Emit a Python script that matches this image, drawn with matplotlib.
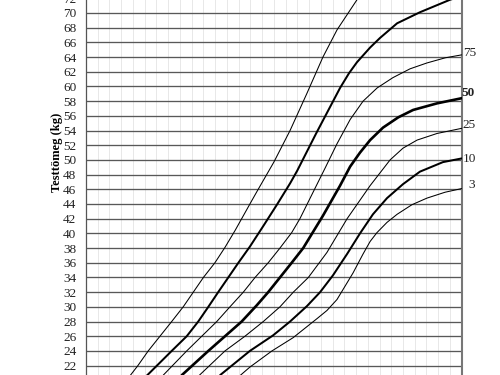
import matplotlib
matplotlib.use("Agg")
import matplotlib.pyplot as plt
import numpy as np

# ---- data (age in years, weight in kg) ----
p97_age = [3.87, 4.21, 4.65, 5.15, 5.65, 6.14, 6.57, 7.00, 7.49, 7.92, 8.35, 8.98, 9.28, 10.0, 10.69, 11.4, 12.09, 12.69, 13.54, 14.0]
p97_kg  = [20.6, 22.0, 24.0, 26.0, 28.0, 30.0, 32.0, 34.0, 36.0, 38.1, 40.4, 44.0, 45.7, 49.7, 54.0, 59.0, 64.0, 67.7, 71.8, 74.0]

p90_age = [4.58, 5.65, 6.29, 6.78, 7.21, 7.63, 8.06, 8.49, 8.98, 9.55, 10.13, 10.69, 10.99, 11.8, 12.82, 13.2, 13.54, 14.1, 14.52, 15.25, 16.22, 17.5, 18.0]
p90_kg  = [20.6, 24.0, 26.0, 28.0, 30.0, 32.0, 34.0, 36.0, 38.2, 41.0, 43.9, 46.8, 48.5, 53.6, 59.8, 61.8, 63.3, 65.3, 66.6, 68.6, 70.1, 71.8, 72.3]

p75_age = [5.29, 6.29, 6.93, 7.57, 8.13, 8.70, 9.20, 9.76, 10.26, 10.76, 11.11, 11.67, 12.2, 12.69, 13.25, 13.80, 14.4, 15.07, 15.8, 16.52, 17.3, 18.0]
p75_kg  = [20.7, 24.0, 26.0, 28.0, 30.0, 32.0, 34.0, 36.0, 38.0, 40.1, 42.0, 45.6, 49.0, 52.2, 55.5, 58.0, 59.8, 61.2, 62.4, 63.2, 63.9, 64.3]

p50_age = [6.08, 7.21, 7.92, 8.63, 9.27, 9.76, 10.26, 10.76, 11.25, 12.09, 12.82, 13.25, 13.67, 14.1, 14.65, 15.3, 15.93, 16.95, 18.0]
p50_kg  = [20.7, 24.0, 26.0, 28.0, 30.2, 32.0, 34.0, 36.0, 38.0, 42.4, 46.5, 49.1, 51.0, 52.7, 54.4, 55.8, 56.8, 57.7, 58.4]

p25_age = [6.80, 7.92, 8.77, 9.55, 10.26, 10.83, 11.47, 12.26, 13.12, 14.10, 14.95, 15.5, 16.10, 16.95, 18.0]
p25_kg  = [20.6, 24.0, 26.0, 28.0, 30.0, 32.0, 34.0, 37.4, 42.0, 46.5, 50.0, 51.6, 52.7, 53.6, 54.3]

p10_age = [7.71, 8.98, 9.96, 10.69, 11.41, 11.97, 12.52, 13.12, 13.67, 14.22, 14.82, 15.50, 16.22, 17.20, 18.0]
p10_kg  = [20.7, 24.0, 26.1, 28.0, 30.1, 32.0, 34.3, 37.2, 40.0, 42.6, 44.8, 46.7, 48.4, 49.7, 50.2]

p3_age = [8.56, 8.98, 9.92, 10.82, 11.84, 12.26, 12.69, 13.03, 13.37, 13.80, 14.10, 14.39, 14.82, 15.25, 15.88, 16.52, 17.29, 18.0]
p3_kg  = [20.64, 21.8, 24.0, 25.8, 28.4, 29.5, 31.0, 32.8, 34.6, 37.2, 38.9, 40.1, 41.5, 42.6, 43.9, 44.8, 45.6, 46.1]

curve_labels = ["75", "50", "25", "10", "3"]
ytick_values = list(range(18, 75, 2))
ytick_labels = ["" if v < 22 else str(v) for v in ytick_values]

# ---- figure ----
fig = plt.figure(figsize=(5, 3.75), dpi=100)
ax = fig.add_axes([86 / 500, -0.0533, 375.7 / 500, 1.097])
ax.set_xlim(2, 18)
ax.set_ylim(18, 74)

serif = ["Liberation Serif", "DejaVu Serif"]

# grid lines
for yv in ytick_values:
    ax.axhline(yv, color="#585858", lw=0.95, zorder=1)
for xv in np.arange(2.5, 18, 0.5):
    ax.axvline(xv, color="#e2e2e2", lw=0.55, zorder=0)

curves = [
    (p97_age, p97_kg, 0.75),
    (p90_age, p90_kg, 1.45),
    (p75_age, p75_kg, 0.75),
    (p50_age, p50_kg, 1.9),
    (p25_age, p25_kg, 0.75),
    (p10_age, p10_kg, 1.45),
    (p3_age, p3_kg, 0.75),
]
for a, k, w in curves:
    ax.plot(a, k, color="black", lw=w, zorder=3, solid_capstyle="round", solid_joinstyle="round")

ax.set_xticks([])
ax.set_yticks(ytick_values)
ax.set_yticklabels(ytick_labels, fontfamily=serif, fontsize=9.5, color="#222222")
ax.tick_params(axis="y", length=0, pad=7)

for side in ["top", "bottom"]:
    ax.spines[side].set_visible(False)
ax.spines["left"].set_color("#555555")
ax.spines["left"].set_linewidth(0.9)
ax.spines["right"].set_color("#777777")
ax.spines["right"].set_linewidth(1.5)

# right-hand percentile labels
label_pos = [(18.05, 64.55), (18.0, 59.1), (18.05, 54.75), (18.05, 50.1), (18.3, 46.6)]
for txt, (lx, ly) in zip(curve_labels, label_pos):
    ax.text(lx, ly, txt, fontfamily=serif, fontsize=9.5, ha="left", va="center",
            fontweight="bold" if txt == "50" else "normal", color="#222222", clip_on=False)

fig.text(57 / 500, 1 - 152 / 375, "Testtömeg (kg)", rotation=90, ha="center", va="center",
         fontfamily=serif, fontsize=9, fontweight="bold")

fig.savefig("out.png", dpi=100)
